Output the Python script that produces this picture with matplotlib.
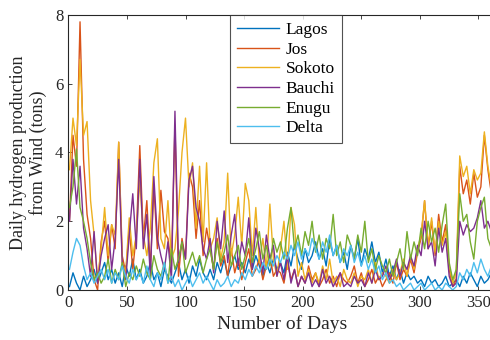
import numpy as np
import matplotlib
matplotlib.use('Agg')
import matplotlib.pyplot as plt

# Values read every 3 days (day 1, 4, 7, ... 364)
days = np.arange(1, 366, 3)

lagos = [0.1, 0.5, 0.2, 0.0, 0.4, 0.1, 0.3, 0.6, 0.2, 0.5,
         0.8, 0.3, 0.6, 0.2, 0.5, 0.1, 0.7, 0.4, 0.9, 0.3,
         0.6, 0.2, 0.4, 0.8, 0.3, 0.5, 0.1, 0.6, 0.4, 0.2,
         0.5, 0.8, 0.3, 0.6, 0.2, 0.7, 0.4, 0.9, 0.5, 0.3,
         0.6, 0.3, 0.8, 0.5, 0.9, 0.4, 0.7, 1.0, 0.6, 0.8,
         0.5, 0.9, 0.6, 1.0, 0.7, 0.4, 0.8, 0.5, 0.9, 0.6,
         0.8, 0.5, 1.1, 0.7, 1.3, 0.9, 0.6, 1.2, 0.8, 1.0,
         1.4, 0.9, 1.2, 0.7, 1.5, 1.0, 1.3, 0.8, 1.1, 0.6,
         1.3, 0.9, 1.5, 0.7, 1.2, 0.9, 1.4, 0.8, 1.1, 0.5,
         0.9, 0.4, 0.7, 0.3, 0.6, 0.2, 0.5, 0.3, 0.4, 0.2,
         0.3, 0.1, 0.4, 0.2, 0.3, 0.1, 0.2, 0.4, 0.1, 0.2,
         0.3, 0.1, 0.4, 0.2, 0.5, 0.3, 0.1, 0.4, 0.2, 0.3,
         0.5, 0.3]

jos = [2.0, 4.5, 3.6, 7.8, 3.8, 2.2, 1.5, 0.3, 0.0, 1.4,
       2.0, 0.8, 1.9, 1.2, 4.3, 1.0, 0.5, 1.8, 0.6, 1.6,
       4.2, 1.5, 2.6, 0.6, 3.0, 1.2, 2.9, 1.7, 1.5, 0.7,
       4.8, 0.4, 1.5, 0.9, 3.4, 3.0, 1.5, 2.6, 1.0, 1.8,
       1.2, 0.6, 1.5, 0.7, 1.0, 0.4, 1.2, 0.5, 0.9, 0.3,
       0.8, 1.2, 0.4, 0.6, 0.9, 0.3, 0.7, 1.0, 0.4, 0.6,
       0.5, 0.2, 0.8, 0.3, 0.6, 0.1, 0.4, 0.2, 0.7, 0.3,
       0.5, 0.1, 0.3, 0.6, 0.2, 0.4, 0.1, 0.5, 0.3, 0.2,
       0.4, 0.7, 0.2, 0.5, 0.1, 0.3, 0.6, 0.2, 0.4, 0.1,
       0.3, 0.5, 0.2, 0.8, 0.3, 0.6, 0.4, 0.9, 0.5, 1.1,
       1.5, 2.6, 1.2, 2.0, 1.0, 2.2, 1.4, 1.9, 0.6, 0.1,
       0.3, 3.6, 2.8, 3.2, 2.5, 3.4, 2.7, 3.0, 4.5, 3.5,
       2.8, 2.4]

sokoto = [3.5, 5.0, 4.2, 6.7, 4.5, 4.9, 2.6, 1.6, 0.3, 1.2,
          2.4, 1.0, 1.9, 1.6, 4.3, 0.8, 0.5, 2.1, 1.0, 1.6,
          3.2, 1.6, 1.0, 1.8, 3.7, 4.4, 1.5, 1.2, 2.6, 0.9,
          1.2, 2.3, 4.0, 5.0, 3.0, 3.7, 1.8, 3.6, 1.4, 3.7,
          1.2, 1.5, 2.1, 0.9, 1.4, 3.4, 1.0, 1.6, 2.7, 1.3,
          3.1, 2.6, 1.0, 2.4, 0.8, 1.5, 0.6, 2.5, 0.9, 0.4,
          1.2, 2.0, 0.6, 2.4, 1.9, 0.4, 0.8, 0.3, 0.6, 0.2,
          0.5, 0.2, 0.7, 0.3, 0.9, 0.2, 0.4, 0.1, 0.6, 0.3,
          0.2, 0.5, 0.1, 0.4, 0.3, 0.6, 0.2, 0.8, 0.3, 0.5,
          0.4, 0.2, 0.6, 0.3, 0.5, 0.9, 0.4, 1.0, 0.6, 1.2,
          1.6, 2.6, 1.3, 2.1, 1.1, 2.0, 1.3, 1.7, 0.7, 0.2,
          0.5, 3.9, 3.3, 3.6, 2.8, 3.5, 3.2, 3.4, 4.6, 3.6,
          3.0, 2.7]

bauchi = [2.0, 3.8, 2.5, 3.6, 1.8, 1.2, 0.4, 1.7, 0.2, 1.0,
          1.5, 1.9, 0.6, 1.5, 3.8, 0.8, 0.3, 1.6, 2.8, 1.2,
          3.8, 1.2, 2.2, 0.4, 3.3, 1.5, 1.0, 0.6, 1.4, 0.3,
          5.2, 0.8, 1.4, 0.9, 3.2, 3.6, 2.4, 2.0, 1.2, 0.9,
          1.5, 0.5, 2.0, 1.2, 2.3, 0.8, 1.6, 2.2, 0.7, 1.4,
          1.0, 2.1, 0.6, 1.8, 1.2, 0.5, 1.6, 0.9, 1.3, 0.4,
          0.8, 0.3, 1.0, 0.2, 0.6, 0.1, 0.4, 0.2, 0.5, 0.1,
          0.3, 0.1, 0.6, 0.2, 0.4, 0.1, 0.3, 0.5, 0.1, 0.2,
          0.1, 0.4, 0.2, 0.3, 0.1, 0.5, 0.2, 0.6, 0.3, 0.4,
          0.7, 0.3, 0.5, 0.9, 0.4, 0.8, 0.6, 1.0, 0.7, 1.3,
          1.0, 2.0, 1.2, 1.4, 0.7, 1.8, 1.1, 1.5, 0.4, 0.1,
          0.2, 2.0, 1.6, 1.9, 1.7, 1.8, 2.1, 2.6, 1.8, 2.0,
          1.7, 1.9]

enugu = [2.4, 3.0, 4.1, 2.4, 2.0, 1.5, 0.8, 0.3, 0.5, 0.2,
         0.4, 0.9, 0.2, 0.6, 0.3, 0.8, 0.1, 0.5, 0.3, 0.7,
         0.4, 0.9, 0.5, 0.3, 1.0, 0.6, 0.4, 0.8, 0.2, 1.2,
         0.6, 0.9, 1.4, 0.5, 0.8, 1.1, 0.7, 1.0, 0.5, 0.9,
         1.2, 0.6, 1.4, 0.8, 1.1, 1.6, 0.7, 1.0, 1.3, 0.6,
         1.0, 1.5, 0.8, 1.2, 1.7, 0.9, 1.3, 0.7, 1.5, 1.1,
         1.4, 0.9, 1.8, 2.4, 1.2, 1.6, 1.0, 1.7, 1.3, 2.0,
         1.1, 1.6, 0.9, 1.5, 1.2, 2.2, 1.0, 1.4, 0.8, 1.6,
         1.3, 0.9, 1.6, 1.1, 2.0, 0.8, 1.2, 0.6, 1.0, 0.7,
         0.5, 0.9, 0.4, 0.8, 1.2, 0.6, 1.7, 0.9, 1.4, 1.0,
         1.8, 1.2, 2.0, 1.4, 1.8, 1.1, 1.9, 2.5, 0.8, 0.3,
         0.6, 2.8, 2.0, 2.2, 1.4, 0.9, 2.0, 2.4, 2.7, 1.5,
         1.2, 1.6]

delta = [0.6, 1.1, 1.5, 1.3, 0.7, 0.3, 0.5, 0.2, 0.4, 0.6,
         0.3, 0.6, 0.2, 0.5, 0.3, 0.7, 0.4, 0.2, 0.6, 0.3,
         0.5, 0.2, 0.7, 0.3, 0.1, 0.5, 0.3, 0.8, 0.2, 0.4,
         0.1, 0.3, 0.0, 0.2, 0.4, 0.1, 0.3, 0.5, 0.2, 0.4,
         0.2, 0.0, 0.3, 0.1, 0.2, 0.4, 0.1, 0.3, 0.2, 0.5,
         0.3, 0.6, 0.4, 0.7, 0.5, 0.8, 0.6, 0.9, 0.7, 1.0,
         0.8, 1.1, 0.9, 1.3, 1.0, 1.4, 0.9, 1.2, 1.0, 1.5,
         1.2, 0.9, 1.4, 1.1, 1.6, 1.0, 1.3, 0.8, 1.2, 1.0,
         1.3, 0.8, 1.1, 0.7, 1.0, 0.6, 0.9, 0.5, 0.7, 0.3,
         0.5, 0.2, 0.3, 0.1, 0.2, 0.0, 0.1, 0.2, 0.0, 0.1,
         0.2, 0.0, 0.1, 0.2, 0.0, 0.1, 0.0, 0.2, 0.1, 0.0,
         0.1, 0.5, 0.3, 0.6, 0.4, 0.8, 0.5, 0.9, 0.6, 0.4,
         0.7, 0.5]

names = ['Lagos', 'Jos', 'Sokoto', 'Bauchi', 'Enugu', 'Delta']
series = [lagos, jos, sokoto, bauchi, enugu, delta]
colors = ['#0072BD', '#D95319', '#EDB120', '#7E2F8E', '#77AC30', '#4DBEEE']

plt.rcParams['font.family'] = ['Liberation Serif', 'DejaVu Serif']

fig = plt.figure(figsize=(4.9, 3.4), dpi=100)
ax = fig.add_axes([0.1394, 0.147, 0.873, 0.809])

for name, vals, c in zip(names, series, colors):
    ax.plot(days, vals, color=c, linewidth=1.0, label=name)

ax.set_xlim(0, 365)
ax.set_ylim(0, 8)
ax.set_xticks(range(0, 351, 50))
ax.set_yticks(range(0, 9, 2))
ax.tick_params(direction='in', top=True, right=True, labelsize=12,
               length=3, width=0.6, colors='#262626')
for sp in ax.spines.values():
    sp.set_color('#262626')
    sp.set_linewidth(0.8)

ax.set_xlabel('Number of Days', fontsize=14, color='#262626', labelpad=3)
ax.set_ylabel('Daily hydrogen production\nfrom Wind (tons)', fontsize=13,
              color='#262626', linespacing=1.1, labelpad=6)

# legend box sits at the top, a bit left of centre
leg = ax.legend(loc='upper left', bbox_to_anchor=(230 / 490, 1 - 15 / 340),
                bbox_transform=fig.transFigure, fontsize=12.5, handlelength=2.4,
                frameon=True, fancybox=False, borderpad=0.4, labelspacing=0.2,
                handletextpad=0.4, borderaxespad=0)
leg.get_frame().set_edgecolor('#262626')
leg.get_frame().set_linewidth(0.8)

fig.savefig('out.png', dpi=100)
